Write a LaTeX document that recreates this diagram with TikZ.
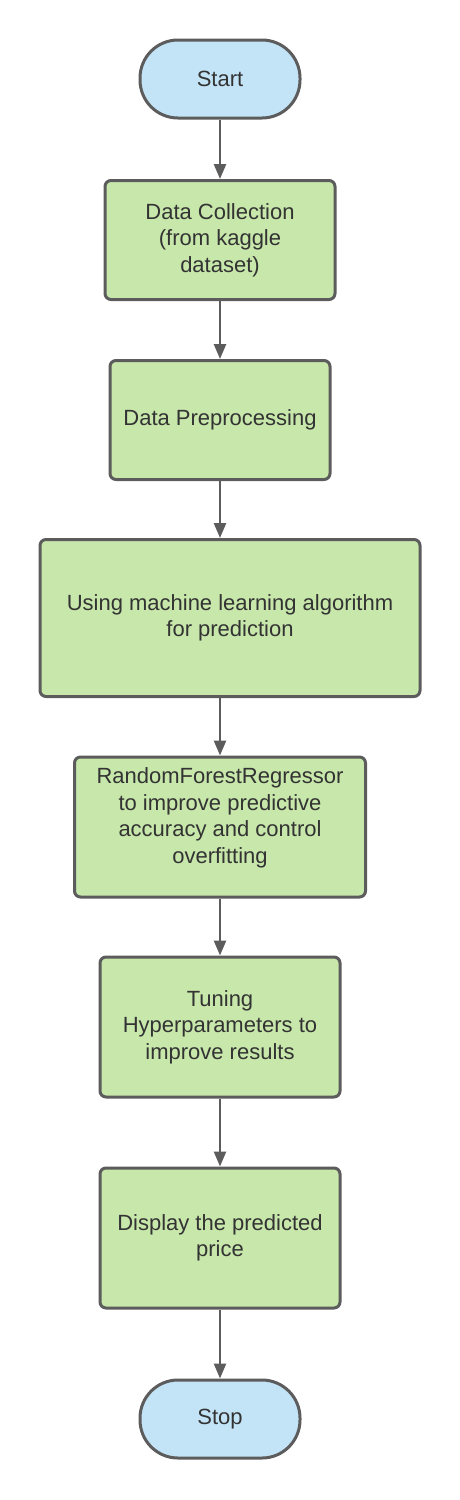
\documentclass[tikz,border=0pt]{standalone}
\usepackage{fontspec}
\setmainfont{Liberation Sans}
\usetikzlibrary{arrows.meta}
\definecolor{boxgreen}{HTML}{C7E7AB}
\definecolor{termblue}{HTML}{C3E4F6}
\definecolor{edge}{HTML}{5C5C5C}
\definecolor{txt}{HTML}{333333}
\begin{document}
\begin{tikzpicture}[x=1pt,y=-1pt,
  every node/.style={font=\fontsize{22}{26.5}\selectfont, text=txt, align=center},
  stepbox/.style={draw=edge, line width=3pt, fill=boxgreen, rounded corners=6pt, inner sep=0pt},
  term/.style={draw=edge, line width=3pt, fill=termblue, rounded corners=38pt, minimum width=160pt, minimum height=78pt, inner sep=0pt},
  conn/.style={draw=edge, line width=2.6pt, -{Triangle[length=15pt,width=12pt]}}
]
\useasboundingbox (0,0) rectangle (460,1500);
\node[term] (start) at (220,79) {Start};
\node[stepbox, minimum width=230pt, minimum height=119pt] (collect) at (220,240) {Data Collection\\(from kaggle\\dataset)};
\node[stepbox, minimum width=220pt, minimum height=119pt] (prep) at (220,420) {Data Preprocessing};
\node[stepbox, minimum width=380pt, minimum height=157pt] (ml) at (230,618) {Using machine learning algorithm\\for prediction};
\node[stepbox, minimum width=291pt, minimum height=140pt] (rf) at (220,827) {};
\node (rftext) at (220,818) {RandomForestRegressor\\to improve predictive\\accuracy and control\\overfitting};
\node[stepbox, minimum width=240pt, minimum height=140pt] (tune) at (220,1027) {Tuning\\Hyperparameters to\\improve results};
\node[stepbox, minimum width=240pt, minimum height=140pt] (disp) at (220,1238) {Display the predicted\\price};
\node[term] (stop) at (220,1419) {Stop};
\draw[conn] (start.south) -- (collect.north);
\draw[conn] (collect.south) -- (prep.north);
\draw[conn] (prep.south) -- (prep.south |- ml.north);
\draw[conn] (ml.south -| rf) -- (rf.north);
\draw[conn] (rf.south) -- (tune.north);
\draw[conn] (tune.south) -- (disp.north);
\draw[conn] (disp.south) -- (stop.north);
\end{tikzpicture}
\end{document}
